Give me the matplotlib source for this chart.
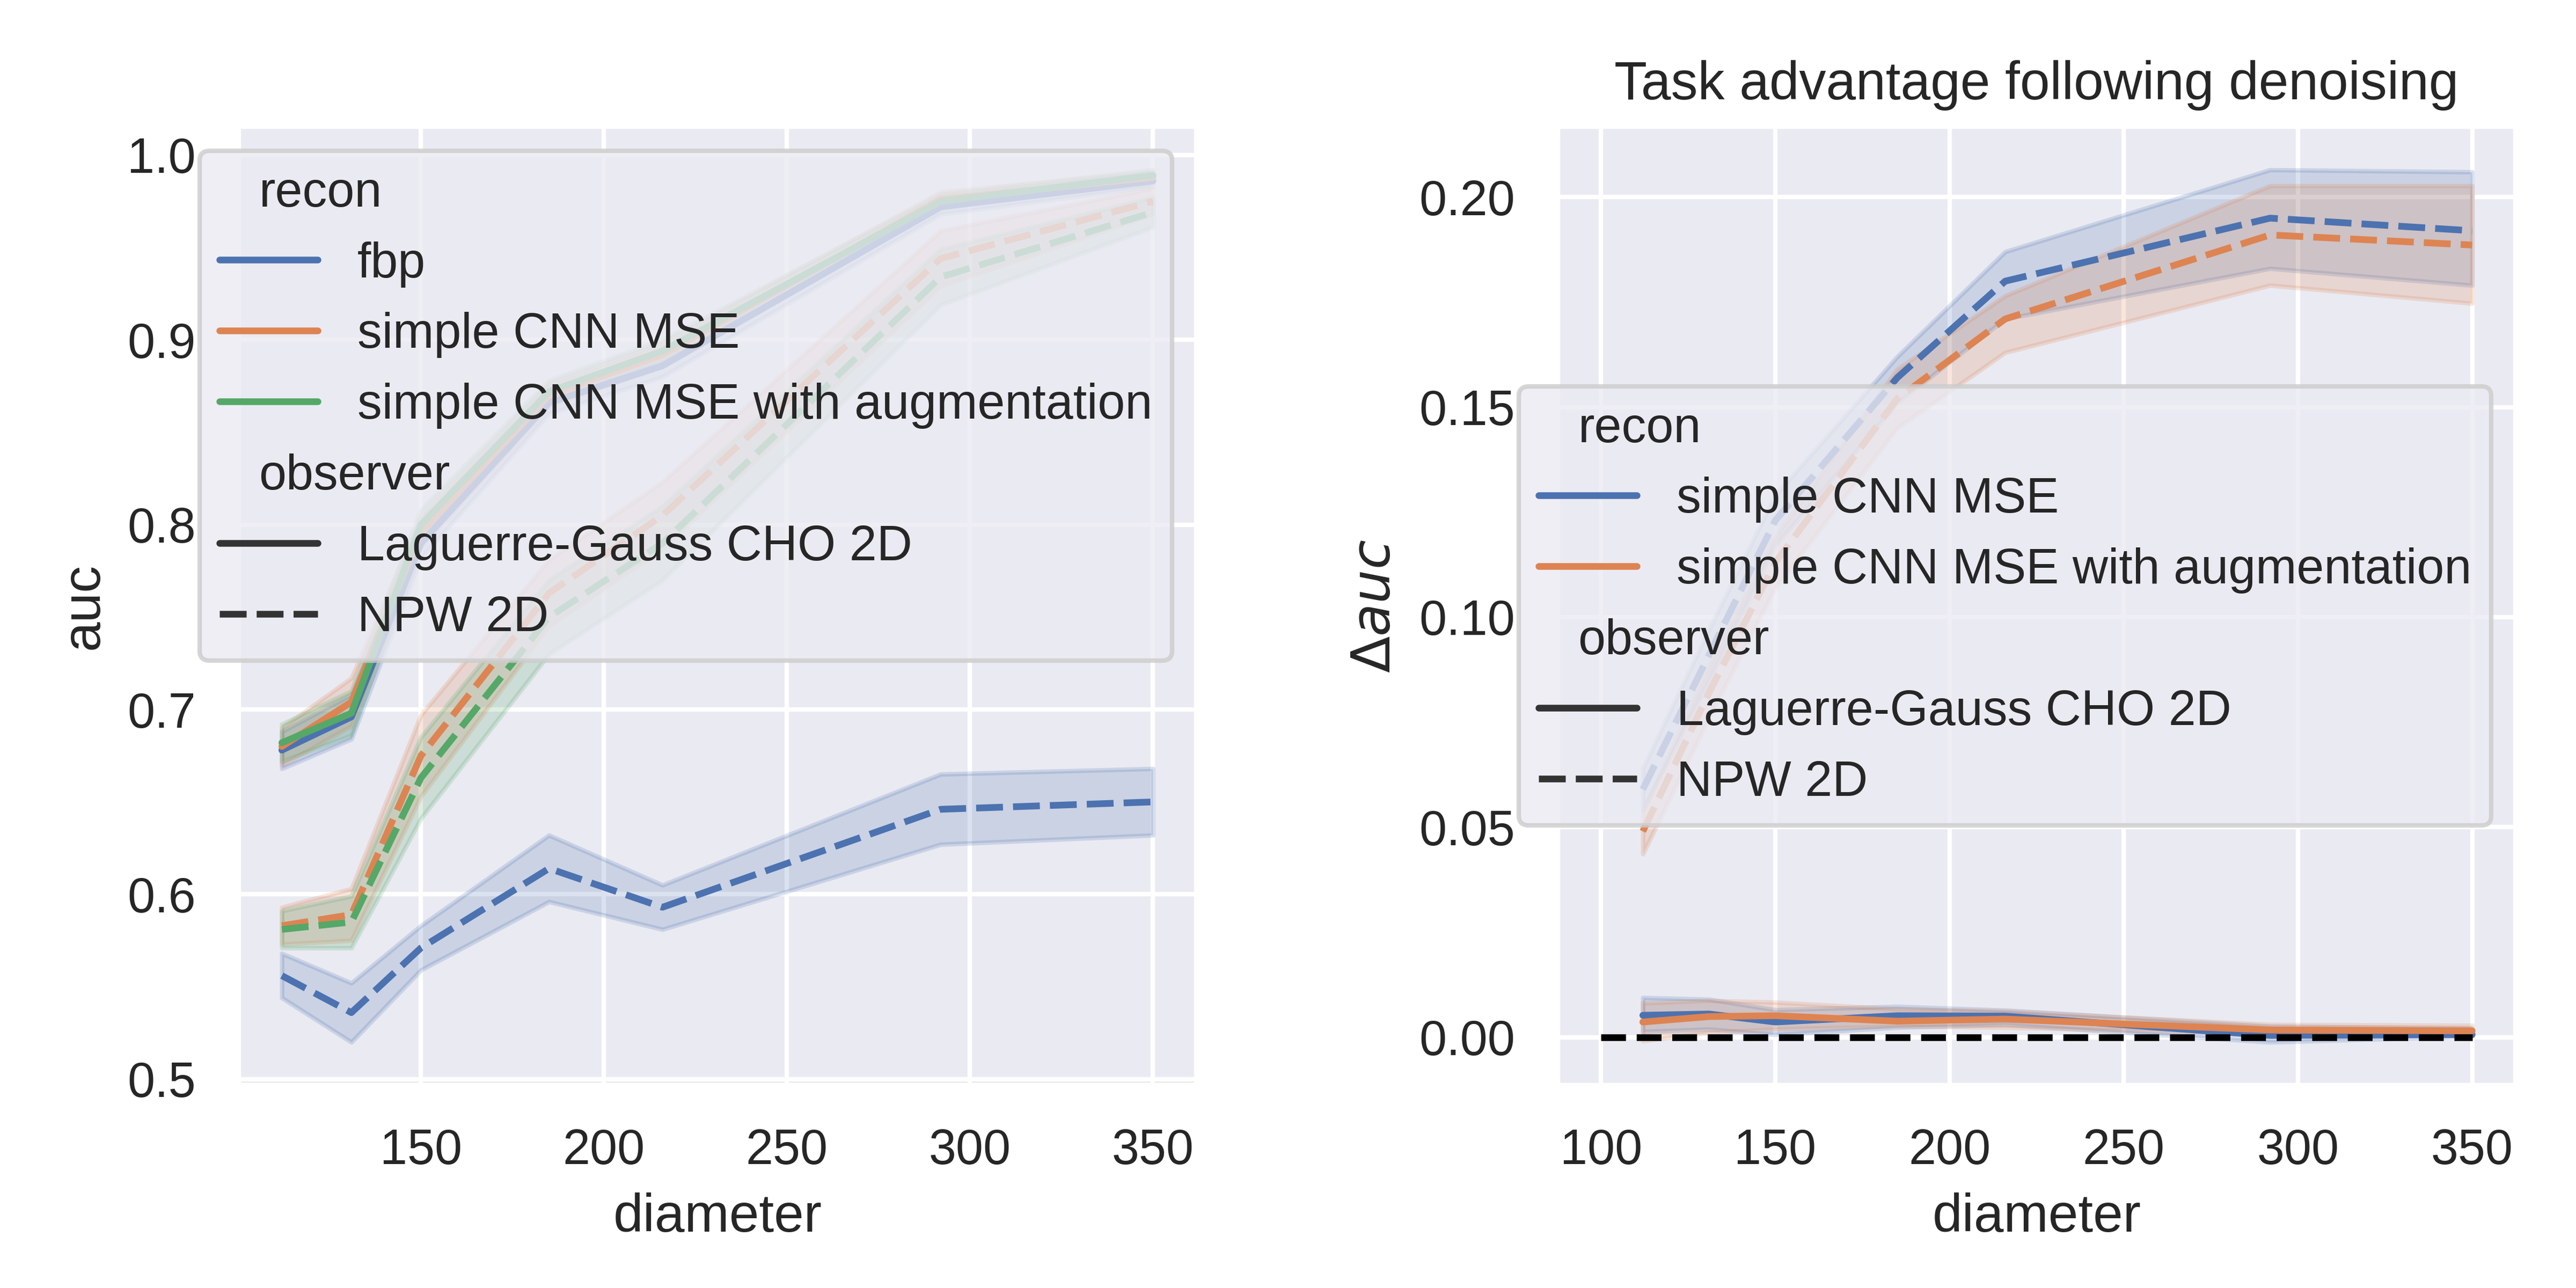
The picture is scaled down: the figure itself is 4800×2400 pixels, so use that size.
import matplotlib
matplotlib.use("Agg")
import matplotlib as mpl
import matplotlib.pyplot as plt
from matplotlib.lines import Line2D
import seaborn as sns

sns.set_theme(style="darkgrid", context="notebook")
plt.rcParams["font.family"] = ["Liberation Sans", "DejaVu Sans"]

# 직경 (x축)
diameters = [112, 131, 150, 185, 216, 292, 350]

# 왼쪽: auc, 평균 / 신뢰구간 반폭
fbp_cho = [0.678, 0.696, 0.790, 0.866, 0.886, 0.972, 0.986]
fbp_cho_err = [0.010, 0.012, 0.008, 0.006, 0.006, 0.004, 0.003]
cnn_cho = [0.680, 0.704, 0.796, 0.870, 0.892, 0.976, 0.988]
cnn_cho_err = [0.010, 0.013, 0.008, 0.006, 0.006, 0.004, 0.003]
aug_cho = [0.682, 0.698, 0.800, 0.872, 0.894, 0.975, 0.989]
aug_cho_err = [0.010, 0.012, 0.008, 0.006, 0.006, 0.004, 0.003]

fbp_npw = [0.556, 0.536, 0.571, 0.614, 0.593, 0.646, 0.650]
fbp_npw_err = [0.012, 0.016, 0.012, 0.018, 0.012, 0.019, 0.018]
cnn_npw = [0.583, 0.589, 0.675, 0.763, 0.805, 0.944, 0.975]
cnn_npw_err = [0.010, 0.014, 0.022, 0.018, 0.018, 0.015, 0.007]
aug_npw = [0.581, 0.585, 0.663, 0.750, 0.790, 0.934, 0.969]
aug_npw_err = [0.010, 0.014, 0.022, 0.020, 0.020, 0.015, 0.008]

# 오른쪽: Δauc, 하한 / 상한
d_cnn_cho = [0.0052, 0.0055, 0.0036, 0.0051, 0.0050, 0.0004, 0.0006]
d_cnn_cho_lo = [0.0013, 0.0019, 0.0006, 0.0023, 0.0030, -0.0012, 0.0002]
d_cnn_cho_hi = [0.0094, 0.0090, 0.0065, 0.0073, 0.0064, 0.0026, 0.0021]
d_aug_cho = [0.0036, 0.0049, 0.0051, 0.0038, 0.0043, 0.0017, 0.0015]
d_aug_cho_lo = [-0.0009, 0.0011, 0.0019, 0.0026, 0.0023, 0.0009, 0.0009]
d_aug_cho_hi = [0.0081, 0.0087, 0.0083, 0.0067, 0.0062, 0.0030, 0.0028]

d_cnn_npw = [0.059, 0.091, 0.123, 0.157, 0.180, 0.195, 0.192]
d_cnn_npw_lo = [0.054, 0.085, 0.117, 0.151, 0.171, 0.183, 0.179]
d_cnn_npw_hi = [0.064, 0.097, 0.129, 0.162, 0.187, 0.2065, 0.206]
d_aug_npw = [0.049, 0.082, 0.113, 0.152, 0.171, 0.191, 0.1886]
d_aug_npw_lo = [0.0436, 0.076, 0.107, 0.145, 0.163, 0.179, 0.1747]
d_aug_npw_hi = [0.0535, 0.088, 0.119, 0.159, 0.1765, 0.2027, 0.2027]

recon_labels = ["fbp", "simple CNN MSE", "simple CNN MSE with augmentation"]
observer_labels = ["Laguerre-Gauss CHO 2D", "NPW 2D"]

colors = sns.color_palette("deep")
dash = (4, 1.5)


def band_line(ax, x, y, lo, hi, color, dashed):
    if dashed:
        ax.plot(x, y, color=color, dashes=dash)
    else:
        ax.plot(x, y, color=color)
    ax.fill_between(x, lo, hi, color=color, alpha=0.2, linewidth=1)


def make_legend(ax, recons, loc):
    # seaborn 스타일 범례: 소제목 + 색 + 선 종류
    handles = [Line2D([], [], visible=False, label="recon")]
    for i, r in enumerate(recons):
        handles.append(Line2D([], [], color=colors[i], label=r))
    handles.append(Line2D([], [], visible=False, label="observer"))
    handles.append(Line2D([], [], color=".2", label=observer_labels[0]))
    handles.append(Line2D([], [], color=".2", dashes=dash, label=observer_labels[1]))
    leg = ax.legend(handles=handles, loc=loc)
    # 소제목은 핸들 자리 없애기 (seaborn adjust_legend_subtitles 흉내)
    for hpack in leg.findobj(mpl.offsetbox.VPacker)[0].get_children():
        area, txt = hpack.get_children()
        if not all(a.get_visible() for a in area.get_children()):
            area.set_width(0)
    return leg


fig = plt.figure(figsize=(8, 4), dpi=600)
ax1 = fig.add_axes([0.0925, 0.157, 0.372, 0.745])
ax2 = fig.add_axes([0.6046, 0.157, 0.372, 0.745])

# 왼쪽 그래프
left_series = [
    (fbp_cho, fbp_cho_err, 0, False),
    (cnn_cho, cnn_cho_err, 1, False),
    (aug_cho, aug_cho_err, 2, False),
    (fbp_npw, fbp_npw_err, 0, True),
    (cnn_npw, cnn_npw_err, 1, True),
    (aug_npw, aug_npw_err, 2, True),
]
for y, e, ci, dashed in left_series:
    lo = [a - b for a, b in zip(y, e)]
    hi = [a + b for a, b in zip(y, e)]
    band_line(ax1, diameters, y, lo, hi, colors[ci], dashed)
ax1.set_xlabel("diameter")
ax1.set_ylabel("auc")
ax1.set_xticks([150, 200, 250, 300, 350])
ax1.set_yticks([0.5, 0.6, 0.7, 0.8, 0.9, 1.0])
make_legend(ax1, recon_labels, "upper right")

# 오른쪽 그래프
right_series = [
    (d_cnn_cho, d_cnn_cho_lo, d_cnn_cho_hi, 0, False),
    (d_aug_cho, d_aug_cho_lo, d_aug_cho_hi, 1, False),
    (d_cnn_npw, d_cnn_npw_lo, d_cnn_npw_hi, 0, True),
    (d_aug_npw, d_aug_npw_lo, d_aug_npw_hi, 1, True),
]
for y, lo, hi, ci, dashed in right_series:
    band_line(ax2, diameters, y, lo, hi, colors[ci], dashed)
ax2.plot([100, 350], [0, 0], color="black", linestyle="--")
ax2.set_title("Task advantage following denoising")
ax2.set_xlabel("diameter")
ax2.set_ylabel(r"$\Delta auc$")
ax2.set_xticks([100, 150, 200, 250, 300, 350])
ax2.set_yticks([0.0, 0.05, 0.10, 0.15, 0.20])
make_legend(ax2, recon_labels[1:], "center right")

fig.savefig("out.png", dpi=600)
